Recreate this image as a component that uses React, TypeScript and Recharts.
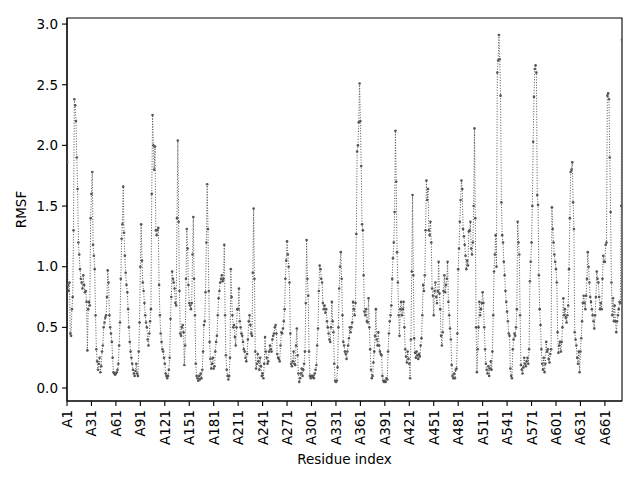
import { LineChart, Line, XAxis, YAxis, ReferenceArea } from 'recharts';

// RMSF per residue, one row per 30 residues (A1..A682)
const rmsf = [
  1.86, 0.85, 0.8, 0.87, 0.45, 0.43, 0.65, 0.75, 1.3, 2.38, 2.33, 2.2, 1.9, 1.64, 1.2, 1.1, 0.98, 0.9, 0.87, 0.82, 0.93, 0.85, 0.79, 0.8, 0.71, 0.31, 0.65, 0.71, 0.68, 1.4,
  1.6, 1.78, 1.18, 1.09, 0.98, 0.6, 0.32, 0.22, 0.15, 0.2, 0.25, 0.13, 0.18, 0.3, 0.35, 0.5, 0.54, 0.58, 0.6, 0.75, 0.97, 0.87, 0.6, 0.5, 0.45, 0.38, 0.25, 0.13, 0.12, 0.11,
  0.12, 0.13, 0.15, 0.2, 0.35, 0.54, 0.9, 1.23, 1.35, 1.66, 1.28, 1.09, 0.95, 0.85, 0.79, 0.65, 0.5, 0.38, 0.3, 0.25, 0.2, 0.15, 0.12, 0.1, 0.14, 0.2, 0.12, 0.1, 0.3, 0.54,
  1.0, 1.35, 1.05, 0.87, 0.8, 0.7, 0.6, 0.54, 0.5, 0.4, 0.35, 0.45, 0.55, 0.65, 1.6, 2.25, 2.0, 1.8, 1.99, 1.3, 1.26, 1.3, 1.32, 0.85, 0.6, 0.45, 0.38, 0.32, 0.3, 0.25,
  0.2, 0.12, 0.1, 0.08, 0.1, 0.15, 0.25, 0.57, 0.75, 0.96, 0.9, 0.87, 0.82, 0.7, 0.68, 1.4, 2.04, 1.37, 0.8, 0.45, 0.43, 0.5, 0.52, 0.46, 0.19, 0.35, 0.9, 1.31, 1.15, 0.85,
  0.7, 0.68, 0.65, 0.7, 1.1, 1.41, 0.9, 0.6, 0.2, 0.1, 0.08, 0.06, 0.1, 0.07, 0.12, 0.08, 0.15, 0.3, 0.52, 0.55, 0.79, 1.2, 1.68, 1.31, 0.8, 0.38, 0.24, 0.16, 0.2, 0.25,
  0.16, 0.18, 0.3, 0.38, 0.43, 0.6, 0.74, 0.8, 0.87, 0.9, 0.93, 0.88, 0.9, 1.18, 0.6, 0.27, 0.15, 0.1, 0.07, 0.1, 0.25, 0.98, 0.75, 0.6, 0.5, 0.52, 0.42, 0.35, 0.5, 0.65,
  0.65, 0.82, 0.55, 0.5, 0.45, 0.43, 0.38, 0.32, 0.3, 0.25, 0.22, 0.28, 0.4, 0.55, 0.6, 0.52, 0.45, 0.43, 0.95, 1.48, 0.9, 0.3, 0.16, 0.2, 0.28, 0.22, 0.15, 0.25, 0.18, 0.1,
  0.12, 0.08, 0.2, 0.42, 0.3, 0.25, 0.2, 0.22, 0.3, 0.35, 0.32, 0.3, 0.4, 0.43, 0.45, 0.5, 0.52, 0.45, 0.28, 0.25, 0.24, 0.22, 0.35, 0.46, 0.45, 0.49, 0.55, 0.65, 0.9, 1.05,
  1.21, 1.1, 1.0, 0.87, 0.45, 0.2, 0.18, 0.22, 0.3, 0.2, 0.19, 0.35, 0.49, 0.27, 0.12, 0.05, 0.08, 0.12, 0.16, 0.1, 0.15, 0.2, 0.3, 0.7, 1.22, 0.9, 0.76, 0.3, 0.1, 0.08,
  0.1, 0.09, 0.1, 0.08, 0.12, 0.15, 0.19, 0.35, 0.49, 0.8, 1.01, 0.98, 0.9, 0.87, 0.7, 0.65, 0.68, 0.62, 0.65, 0.55, 0.5, 0.45, 0.4, 0.38, 0.5, 0.71, 0.55, 0.46, 0.2, 0.06,
  0.05, 0.06, 0.17, 0.5, 0.82, 1.0, 1.12, 0.9, 0.6, 0.38, 0.35, 0.3, 0.28, 0.24, 0.3, 0.35, 0.41, 0.5, 0.46, 0.5, 0.54, 0.71, 0.65, 0.6, 0.7, 1.27, 1.95, 2.0, 2.19, 2.51,
  2.2, 1.83, 1.35, 1.3, 0.93, 0.63, 0.6, 0.65, 0.55, 0.54, 0.74, 0.5, 0.32, 0.15, 0.08, 0.1, 0.21, 0.3, 0.43, 0.65, 0.4, 0.35, 0.46, 0.35, 0.3, 0.28, 0.27, 0.1, 0.06, 0.05,
  0.06, 0.05, 0.08, 0.07, 0.3, 0.45, 0.55, 0.6, 0.68, 0.9, 1.07, 1.2, 1.45, 2.12, 1.7, 1.12, 0.87, 0.6, 0.43, 0.65, 0.71, 0.6, 0.65, 0.71, 0.5, 0.32, 0.26, 0.21, 0.3, 0.24,
  0.2, 0.08, 0.4, 0.96, 1.59, 0.93, 0.41, 0.29, 0.25, 0.3, 0.27, 0.24, 0.28, 0.26, 0.35, 0.41, 0.6, 0.85, 0.8, 0.93, 1.3, 1.71, 1.55, 1.64, 1.3, 1.26, 1.37, 1.2, 0.82, 0.76,
  0.6, 0.8, 0.87, 0.75, 0.7, 0.8, 1.04, 0.78, 0.65, 0.43, 0.35, 0.46, 0.8, 0.93, 0.79, 0.85, 0.9, 1.04, 0.71, 0.6, 0.49, 0.4, 0.19, 0.1, 0.08, 0.12, 0.08, 0.15, 0.16, 0.45,
  0.98, 1.15, 1.37, 1.55, 1.71, 1.64, 1.31, 1.25, 1.18, 1.09, 0.98, 1.05, 1.01, 1.29, 1.3, 1.37, 1.15, 1.1, 1.2, 1.5, 2.14, 1.4, 0.5, 0.13, 0.32, 0.5, 0.71, 0.6, 0.65, 0.7,
  0.79, 0.7, 0.5, 0.32, 0.2, 0.15, 0.12, 0.18, 0.1, 0.16, 0.22, 0.15, 0.3, 0.6, 0.96, 1.1, 1.26, 1.0, 2.6, 2.7, 2.91, 2.71, 2.41, 1.53, 1.26, 1.2, 1.04, 0.93, 0.8, 0.71,
  0.63, 0.55, 0.45, 0.43, 0.16, 0.1, 0.08, 0.32, 0.4, 0.45, 0.43, 0.5, 0.65, 1.37, 1.2, 1.1, 0.6, 0.19, 0.15, 0.12, 0.17, 0.25, 0.2, 0.18, 0.22, 0.25, 0.2, 0.32, 0.88, 1.04,
  1.2, 1.5, 2.03, 2.4, 2.63, 2.66, 2.6, 1.59, 1.51, 0.93, 0.65, 0.52, 0.32, 0.2, 0.15, 0.25, 0.13, 0.2, 0.38, 0.3, 0.32, 0.24, 0.21, 0.28, 0.32, 1.49, 1.31, 1.2, 1.1, 1.04,
  0.98, 0.87, 0.46, 0.29, 0.35, 0.38, 0.3, 0.38, 0.5, 0.74, 0.6, 0.65, 0.58, 0.54, 0.6, 0.68, 0.98, 1.4, 1.78, 1.8, 1.86, 1.53, 1.31, 0.46, 0.4, 0.35, 0.25, 0.2, 0.3, 0.13,
  0.3, 0.41, 0.55, 0.7, 0.76, 0.7, 0.65, 0.76, 0.9, 1.12, 1.0, 0.87, 0.75, 0.71, 0.65, 0.6, 0.55, 0.49, 0.6, 0.75, 0.96, 0.9, 0.87, 0.75, 0.65, 0.7, 0.65, 0.9, 1.09, 1.04,
  1.04, 1.18, 1.2, 2.41, 2.43, 2.38, 1.9, 1.45, 0.87, 0.6, 0.74, 0.55, 0.68, 0.55, 0.46, 0.55, 0.6, 0.65, 0.71, 0.7, 1.5, 2.87,
];

const xTicks = [0, 30, 60, 90, 120, 150, 180, 210, 240, 270, 300, 330, 360, 390, 420, 450, 480, 510, 540, 570, 600, 630, 660];
const yTicks = [0, 0.5, 1.0, 1.5, 2.0, 2.5, 3.0];

const data = rmsf.map((v, i) => ({ idx: i, label: `A${i + 1}`, rmsf: v }));
const last = rmsf.length - 1;
const Y_MIN = -0.107;
const Y_MAX = 3.05;

const font = 'DejaVu Sans, sans-serif';

const XTick = ({ x, y, payload }: any) => (
  <text
    x={x}
    y={y}
    transform={`rotate(-90 ${x} ${y})`}
    textAnchor="end"
    dominantBaseline="central"
    fontSize={13.5}
    fontFamily={font}
    fill="#000"
  >
    {`A${payload.value + 1}`}
  </text>
);

export default function App() {
  return (
    <div style={{ position: 'absolute', left: 0, top: 0 }}>
      <LineChart width={640} height={480} data={data} margin={{ top: 18, right: 18, left: 0, bottom: 0 }}>
        <ReferenceArea x1={0} x2={last} y1={Y_MIN} y2={Y_MAX} fill="none" stroke="#000" strokeWidth={1.1} />
        <XAxis
          dataKey="idx"
          type="number"
          domain={[0, last]}
          ticks={xTicks}
          allowDataOverflow
          interval={0}
          height={79}
          tickSize={5}
          tickMargin={4}
          tick={<XTick />}
          axisLine={{ stroke: '#000', strokeWidth: 1.1 }}
          tickLine={{ stroke: '#000', strokeWidth: 1.1 }}
          label={{ value: 'Residue index', position: 'insideBottom', offset: 16, fontSize: 13.5, fontFamily: font, fill: '#000' }}
        />
        <YAxis
          type="number"
          domain={[Y_MIN, Y_MAX]}
          ticks={yTicks}
          allowDataOverflow
          width={67}
          tickSize={5}
          tickMargin={4}
          tickFormatter={(v: number) => v.toFixed(1)}
          tick={{ fontSize: 13.5, fontFamily: font, fill: '#000' }}
          axisLine={{ stroke: '#000', strokeWidth: 1.1 }}
          tickLine={{ stroke: '#000', strokeWidth: 1.1 }}
          label={{ value: 'RMSF', angle: -90, position: 'center', dx: -12, fontSize: 13.5, fontFamily: font, fill: '#000' }}
        />
        <Line
          dataKey="rmsf"
          type="linear"
          stroke="#555"
          strokeWidth={1}
          strokeDasharray="1 1.65"
          dot={{ r: 1.3, fill: '#555', stroke: 'none' }}
          activeDot={false}
          isAnimationActive={false}
        />
      </LineChart>
    </div>
  );
}
